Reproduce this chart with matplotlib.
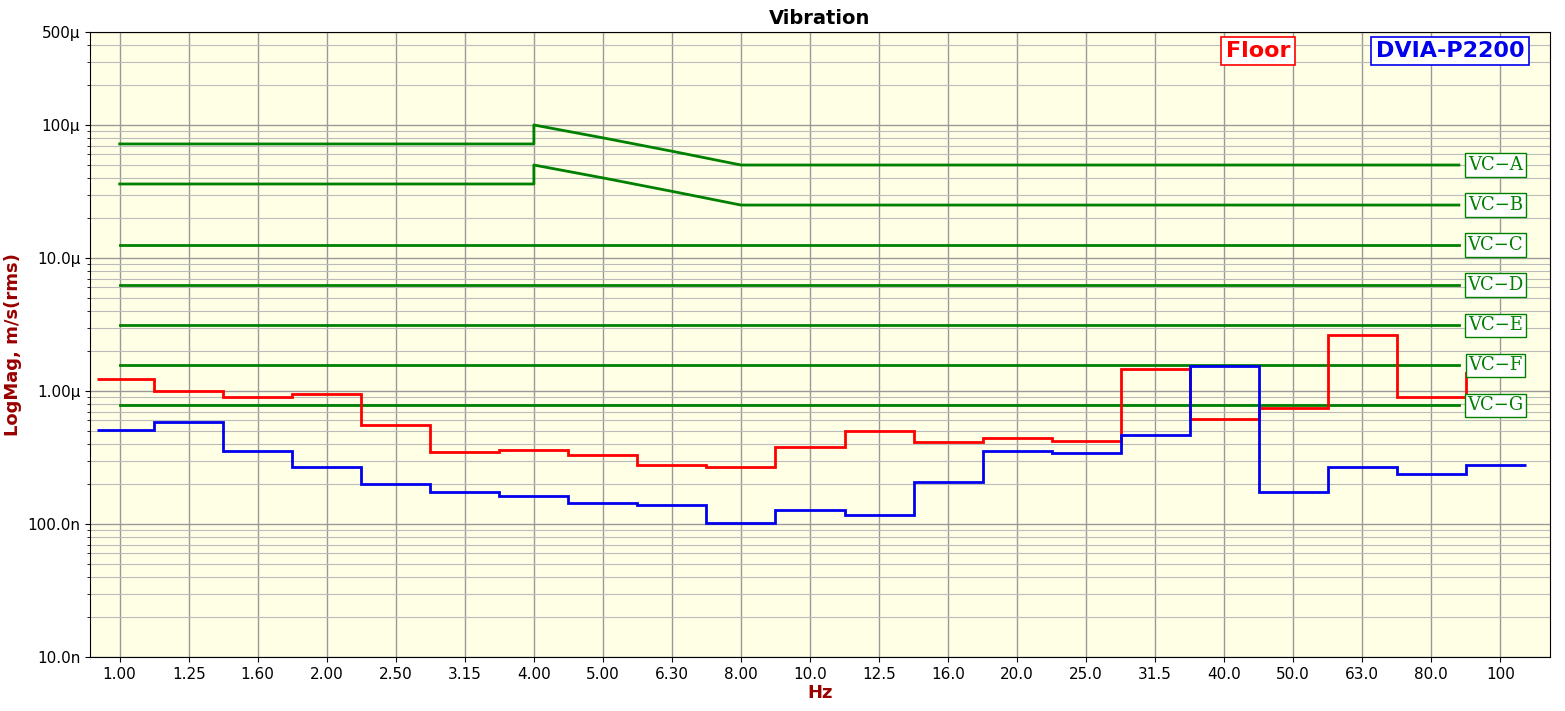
import matplotlib
matplotlib.use("Agg")
import matplotlib.pyplot as plt
import numpy as np

bands = ["1.00","1.25","1.60","2.00","2.50","3.15","4.00","5.00","6.30","8.00","10.0",
         "12.5","16.0","20.0","25.0","31.5","40.0","50.0","63.0","80.0","100"]
floor = [1.23,1.0,0.90,0.95,0.555,0.35,0.36,0.33,0.278,0.27,0.38,0.50,0.41,0.44,0.42,
         1.46,0.62,0.745,2.63,0.90]
dvia = [0.51,0.585,0.354,0.268,0.2,0.174,0.163,0.144,0.139,0.102,0.128,0.117,0.207,
        0.354,0.342,0.467,1.54,0.174,0.268,0.238,0.28]
vc_names = ["VC\u2212A","VC\u2212B","VC\u2212C","VC\u2212D","VC\u2212E","VC\u2212F","VC\u2212G"]
vc_flat = [50,25,12.5,6.25,3.12,1.56,0.78]
vc_low = [72,36]
vc_slope_x = [6,7,8,9]
vc_slope_a = [100,80,63.5,50]
vc_slope_b = [50,40,31.7,25]

fig = plt.figure(figsize=(15.65,7.11), dpi=100)
ax = fig.add_axes([90/1565, 54/711, 1460/1565, 625/711])
ax.set_facecolor("#FFFFE6")
ax.set_yscale("log")
ax.set_ylim(1e-8, 5e-4)
ax.set_xlim(-0.43, 20.72)

u = 1e-6
fedges = np.arange(len(floor)+1)-0.5
fedges[0] = -0.33
ax.stairs(np.array(floor)*u, fedges, color="red", lw=2, baseline=None, zorder=4)
edges = np.arange(len(dvia)+1)-0.5
edges[0] = -0.33; edges[-1] = 20.37
ax.stairs(np.array(dvia)*u, edges, color="#0000EE", lw=2, baseline=None, zorder=4)
ax.plot([19.5,19.5],[floor[-1]*u,1.36*u], color="red", lw=2, zorder=4)

xend = 19.4
g = "#008000"
for i,(n,v) in enumerate(zip(vc_names, vc_flat)):
    if i < 2:
        sl = vc_slope_a if i == 0 else vc_slope_b
        xs = [0,6,6] + vc_slope_x[1:] + [xend]
        ys = [vc_low[i], vc_low[i]] + sl + [v]
        ax.plot(xs, np.array(ys)*u, color=g, lw=2, zorder=3)
    else:
        ax.plot([0,xend],[v*u,v*u], color=g, lw=2, zorder=3)
    ax.text(19.93, v*u, n, family="DejaVu Serif", fontsize=13, color=g, ha="center", va="center",
            bbox=dict(boxstyle="square,pad=0.15", fc="white", ec=g, lw=1), zorder=5)

ax.set_xticks(range(len(bands)))
ax.set_xticklabels(bands, fontsize=11)
ax.set_yticks([1e-8,1e-7,1e-6,1e-5,1e-4,5e-4])
ax.set_yticklabels(["10.0n","100.0n","1.00\u00b5","10.0\u00b5","100\u00b5","500\u00b5"], fontsize=11)
ax.yaxis.set_minor_formatter(matplotlib.ticker.NullFormatter())
ax.grid(True, which="major", color="#999999", lw=1)
ax.grid(True, which="minor", axis="y", color="#BBBBBB", lw=0.8)
ax.set_axisbelow(True)
ax.set_title("Vibration", fontsize=14, fontweight="bold", pad=6)
ax.set_xlabel("Hz", fontsize=13, fontweight="bold", color="#990000", labelpad=2)
ax.set_ylabel("LogMag, m/s(rms)", fontsize=13, fontweight="bold", color="#990000")

fig.text(1258/1565, 1-51/711, "Floor", color="red", fontsize=16, fontweight="bold", ha="center", va="center",
         bbox=dict(boxstyle="square,pad=0.2", fc="white", ec="red", lw=1.2))
fig.text(1450/1565, 1-51/711, "DVIA-P2200", color="#0000EE", fontsize=16, fontweight="bold", ha="center", va="center",
         bbox=dict(boxstyle="square,pad=0.2", fc="white", ec="#0000EE", lw=1.2))
fig.savefig("out.png", dpi=100)
